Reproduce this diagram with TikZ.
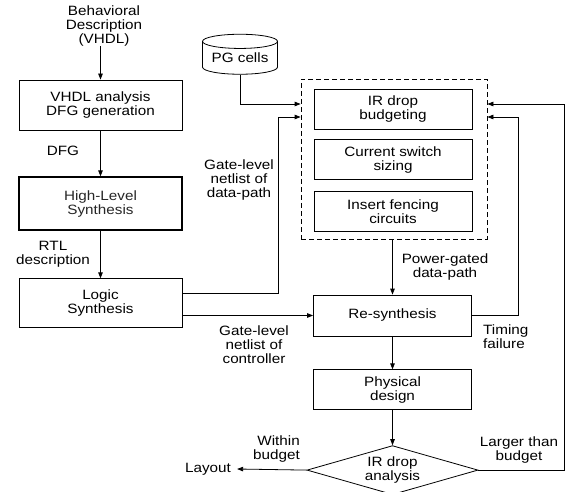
\documentclass[tikz,border=0pt]{standalone}
\usepackage{fontspec}
\setmainfont{Liberation Sans}[FakeStretch=1.13]
\usetikzlibrary{positioning, arrows.meta, shapes.geometric}

\begin{document}
\begin{tikzpicture}[
  x=1pt, y=-1pt,
  font=\fontsize{13.5}{14}\selectfont,
  box/.style={draw, line width=0.8pt, align=center, inner sep=0pt,
              minimum width=163pt, minimum height=49pt},
  pgbox/.style={draw, line width=0.8pt, align=center, inner sep=0pt,
                minimum width=158pt, minimum height=40pt},
  lbl/.style={align=center, inner sep=0pt},
  arr/.style={-{Triangle[length=6pt, width=4.5pt]}, line width=0.8pt},
]
\useasboundingbox (0,0) rectangle (573,492);

% left column
\node[lbl] (behav) at (104,26) {Behavioral\\Description\\(VHDL)};
\node[box, minimum height=50pt] (vhdl) at (100.5,105) {VHDL analysis\\DFG generation};
\node[box, minimum height=53pt, line width=2pt, text=black!85, below=46pt of vhdl] (hls)
  {High-Level\\Synthesis};
\node[box, below=47pt of hls] (logic) {Logic\\Synthesis};

% power gating block
\node[draw, dashed, dash pattern=on 5pt off 3pt, line width=0.8pt, inner sep=0pt,
      minimum width=186pt, minimum height=160pt] (pg) at (394,159) {};
\node[pgbox] (ir) at (393,109) {IR drop\\budgeting};
\node[pgbox, below=10pt of ir] (sizing) {Current switch\\sizing};
\node[pgbox, below=11pt of sizing] (fence) {Insert fencing\\circuits};
\node[draw, cylinder, shape border rotate=90, aspect=0.25, line width=0.8pt,
      inner sep=0pt, minimum width=75pt, minimum height=40pt] (cells) at (240,58) {PG cells};

% right column
\node[pgbox, minimum height=41pt] (resyn) at (392.5,315.5) {Re-synthesis};
\node[pgbox, below=33pt of resyn] (phys) {Physical\\design};
\node[draw, diamond, aspect=3.5, line width=0.8pt, inner sep=0pt, align=center,
      minimum width=171pt, minimum height=49pt, below=35pt of phys] (irdrop)
  {IR drop\\analysis};

% labels
\node[lbl] (dfg) at (63,151) {DFG};
\node[lbl] (rtl) at (53,254) {RTL\\description};
\node[lbl] (dpnet) at (239,180) {Gate-level\\netlist of\\data-path};
\node[lbl] (ctlnet) at (254,345) {Gate-level\\netlist of\\controller};
\node[lbl] (pgdp) at (445,267) {Power-gated\\data-path};
\node[lbl, align=left, anchor=west] (timing) at (483,337) {Timing\\failure};
\node[lbl, align=right, anchor=east] (within) at (300,449) {Within\\budget};
\node[lbl] (larger) at (519,450) {Larger than\\budget};
\node[lbl] (layout) at (208,469) {Layout};

\draw[arr] (behav.south -| vhdl.north) -- (vhdl.north);
\draw[arr] (vhdl) -- (hls);
\draw[arr] (hls) -- (logic);
\draw[arr] (cells.south) |- ([yshift=5pt]ir.west -| pg.west);
\draw[arr] ([yshift=10pt]logic.east) -- ++(96,0) |- ([yshift=-8pt]ir.west -| pg.west);
\draw[arr] (logic.east |- resyn.west) -- (resyn.west);
\draw[arr] (pg.south -| resyn.north) -- (resyn.north);
\draw[arr] (resyn) -- (phys);
\draw[arr] (phys) -- (irdrop);
\draw[arr] (resyn.east) -- ++(46,0) |- ([yshift=-8pt]ir.east -| pg.east);
\draw[arr] (irdrop.east) -- ++(86,0) |- ([yshift=5pt]ir.east -| pg.east);
\draw[arr] (irdrop.west) -- ([xshift=6pt]layout.east);
\end{tikzpicture}
\end{document}
